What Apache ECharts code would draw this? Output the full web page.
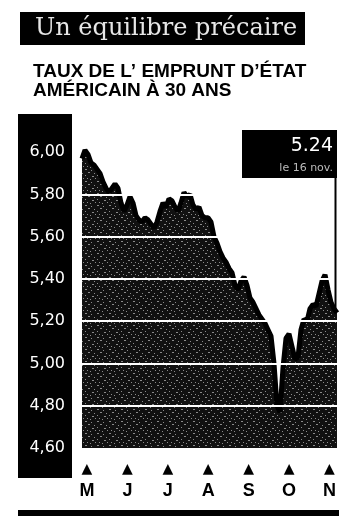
<!DOCTYPE html>
<html>
<head>
<meta charset="utf-8">
<script src="https://cdn.jsdelivr.net/npm/echarts@6/dist/echarts.min.js"></script>
<style>
html, body { margin: 0; padding: 0; background: #fff; }
#main { width: 339px; height: 516px; }
</style>
</head>
<body>
<div id="main"></div>
<script>
// taux de l'emprunt d'Etat americain a 30 ans, mai -> 16 nov.
const rates = [
    5.97, 6.01, 5.99, 5.95, 5.94, 5.92, 5.90, 5.86, 5.83, 5.81,
    5.83, 5.85, 5.83, 5.76, 5.72, 5.75, 5.79, 5.76, 5.70, 5.68,
    5.67, 5.69, 5.68, 5.66, 5.64, 5.67, 5.72, 5.76, 5.74, 5.78,
    5.77, 5.74, 5.72, 5.76, 5.81, 5.79, 5.80, 5.75, 5.73, 5.74,
    5.70, 5.69, 5.69, 5.67, 5.60, 5.57, 5.53, 5.50, 5.48, 5.45,
    5.43, 5.37, 5.35, 5.39, 5.41, 5.37, 5.31, 5.29, 5.26, 5.23,
    5.21, 5.19, 5.16, 5.13, 5.00, 4.80, 4.77, 4.98, 5.12, 5.14,
    5.08, 5.02, 5.03, 5.16, 5.21, 5.20, 5.26, 5.28, 5.27, 5.33,
    5.39, 5.42, 5.35, 5.29, 5.26, 5.24
]
const days = rates.map((v, i) => i)
const months = ['M', 'J', 'J', 'A', 'S', 'O', 'N']
const yTicks = [4.6, 4.8, 5.0, 5.2, 5.4, 5.6, 5.8, 6.0]
const lastDate = 'le 16 nov.'

const title = 'Un équilibre précaire'
const subtitle = ['TAUX DE L\u2019 EMPRUNT D\u2019ÉTAT', 'AMÉRICAIN À 30 ANS']

// petite trame pour imiter le grain de l'impression
const grain = document.createElement('canvas')
grain.width = 12
grain.height = 12
const g = grain.getContext('2d')
g.fillStyle = '#111'
g.fillRect(0, 0, 12, 12)
g.fillStyle = '#8a8a8a'
;[[1, 1], [2, 1], [7, 2], [4, 4], [5, 4], [10, 5], [1, 7], [8, 8], [9, 8], [3, 10], [6, 11], [11, 10]].forEach(([x, y]) => g.fillRect(x, y, 1, 1))

const chart = echarts.init(document.getElementById('main'))

const last = rates[rates.length - 1]
const fmt = (v) => v.toFixed(2)

const baseGraphic = [
    { id: 'tbox', type: 'rect', shape: { x: 20, y: 12, width: 285, height: 33 }, style: { fill: '#000' } },
    { id: 'ttxt', type: 'text', x: 35, y: 29, style: { text: title, fill: '#e6e6e6', font: '24px "DejaVu Serif"', textVerticalAlign: 'middle' } },
    { id: 'st1', type: 'text', x: 33, y: 72, style: { text: subtitle[0], fill: '#000', font: 'bold 19px "Liberation Sans"', textVerticalAlign: 'middle' } },
    { id: 'st2', type: 'text', x: 33, y: 91, style: { text: subtitle[1], fill: '#000', font: 'bold 19px "Liberation Sans"', textVerticalAlign: 'middle' } },
    { id: 'ypanel', type: 'rect', z: -1, shape: { x: 18, y: 114, width: 54, height: 364 }, style: { fill: '#000' } },
    { id: 'foot', type: 'rect', shape: { x: 18, y: 510, width: 321, height: 6 }, style: { fill: '#000' } },
    { id: 'cbox', type: 'rect', z: 10, shape: { x: 242, y: 130, width: 95, height: 48 }, style: { fill: '#000' } },
    { id: 'cval', type: 'text', z: 11, x: 333, y: 146, style: { text: fmt(last), fill: '#fff', font: '19px "DejaVu Sans"', textAlign: 'right', textVerticalAlign: 'middle' } },
    { id: 'cdate', type: 'text', z: 11, x: 333, y: 168, style: { text: lastDate, fill: '#bbb', font: '11px "DejaVu Sans"', textAlign: 'right', textVerticalAlign: 'middle' } },
]

chart.setOption({
    animation: false,
    grid: [
        { left: 82, right: 2, top: 110, bottom: 68 },
        { left: 87, right: 7, top: 110, bottom: 68 },
    ],
    xAxis: [
        {
            type: 'category',
            gridIndex: 0,
            data: days,
            boundaryGap: false,
            axisLine: { show: false },
            axisTick: { show: false },
            axisLabel: { show: false },
        },
        {
            type: 'category',
            gridIndex: 1,
            data: months,
            boundaryGap: false,
            axisLine: { show: false },
            axisTick: { show: false },
            axisLabel: {
                interval: 0,
                margin: 13,
                formatter: (m) => '{t|▲}\n{m|' + m + '}',
                rich: {
                    t: { fontSize: 14, lineHeight: 16, color: '#000', fontFamily: 'DejaVu Sans' },
                    m: { fontSize: 18, lineHeight: 28, color: '#000', fontWeight: 'bold', fontFamily: 'Liberation Sans' },
                },
            },
        },
    ],
    yAxis: [
        {
            type: 'value',
            gridIndex: 0,
            min: 4.6,
            max: 6.2,
            interval: 0.2,
            z: 5,
            axisLine: { show: false },
            axisTick: { show: false },
            axisLabel: {
                margin: 17,
                color: '#fff',
                fontSize: 16,
                fontFamily: 'DejaVu Sans',
                formatter: (v) => (yTicks.some((t) => Math.abs(t - v) < 1e-6) ? fmt(v).replace('.', ',') : ''),
            },
            splitLine: {
                show: true,
                lineStyle: {
                    width: 2,
                    color: ['rgba(0,0,0,0)', '#fff', '#fff', '#fff', '#fff', '#fff', '#fff', 'rgba(0,0,0,0)', 'rgba(0,0,0,0)'],
                },
            },
        },
        { type: 'value', gridIndex: 1, show: false },
    ],
    series: [
        {
            type: 'line',
            xAxisIndex: 0,
            yAxisIndex: 0,
            data: rates,
            symbol: 'none',
            z: 2,
            lineStyle: { color: '#000', width: 5, join: 'bevel' },
            areaStyle: { color: { image: grain, repeat: 'repeat' }, opacity: 1 },
        },
    ],
    graphic: baseGraphic,
})

// trait vertical de la bulle jusqu'au dernier point
const p = chart.convertToPixel({ seriesIndex: 0 }, [rates.length - 1, last])
chart.setOption({
    graphic: baseGraphic.concat([
        { id: 'cline', type: 'line', z: 9, shape: { x1: 335.5, y1: 178, x2: 335.5, y2: p[1] }, style: { stroke: '#000', lineWidth: 2 } },
    ]),
})
</script>
</body>
</html>
